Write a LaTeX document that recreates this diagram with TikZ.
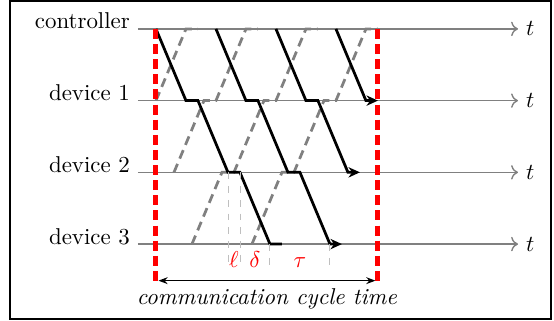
\documentclass[tikz,border=0pt]{standalone}
\usetikzlibrary{arrows.meta}
\tikzset{
  timeline/.style={gray, semithick, -{To[length=3pt]}},
  downmsg/.style={black, very thick},
  upmsg/.style={gray, very thick, dash pattern=on 4pt off 2.5pt},
  cyclemark/.style={red, line width=2.2pt, dash pattern=on 4.4pt off 2.2pt},
  helpline/.style={gray!50, thin, dashed},
  paramlabel/.style={red, anchor=base},
}

\begin{document}
\begin{tikzpicture}[x=0.46cm, y=1.1cm, >={Stealth[length=5pt, width=4.5pt]}]
    \useasboundingbox (-5.2,0.403) rectangle (13.27,-4.07);
    % Frame
    \draw[line width=0.9pt] (-4.88,0.39) rectangle (13.17,-4.05);

    % Timelines
    \foreach \lab/\y/\nm in {controller/0/ctrl, device 1/-1/devA, device 2/-2/devB, device 3/-3/devC} {
        \coordinate (\nm-start) at (-0.6,\y);
        \coordinate (\nm-end) at (12.07,\y);
        \draw[timeline] (\nm-start) -- (\nm-end);
        \node[right] (\nm-t) at (\nm-end) {$t$};
        \node[anchor=base east] (\nm-label) at (\nm-start) {\lab};
    }

    % Replies (upwards, dashed)
    \draw[upmsg] (0,-1) -- (1,0) -- (1.4,0);
    \draw[upmsg] (0.6,-2) -- (1.6,-1) -- (2,-1) -- (3,0) -- (3.4,0);
    \draw[upmsg] (1.2,-3) -- (2.2,-2) -- (2.6,-2) -- (3.6,-1) -- (4,-1)
        -- (5,0) -- (5.4,0);
    \draw[upmsg] (3.2,-3) -- (4.2,-2) -- (4.6,-2) -- (5.6,-1) -- (6,-1)
        -- (7,0) -- (7.4,0);

    % Commands (downwards)
    \draw[downmsg] (0,0) -- (1,-1) -- (1.4,-1) -- (2.4,-2) -- (2.8,-2)
        -- (3.8,-3) -- (4.2,-3);
    \draw[downmsg, ->] (2,0) -- (3,-1) -- (3.4,-1) -- (4.4,-2) -- (4.8,-2)
        -- (5.8,-3) -- (6.2,-3);
    \draw[downmsg, ->] (4,0) -- (5,-1) -- (5.4,-1) -- (6.4,-2) -- (6.8,-2);
    \draw[downmsg, ->] (6,0) -- (7,-1) -- (7.4,-1);

    % Parameter markers
    \draw[helpline] (2.4,-2) -- (2.4,-3.33);
    \draw[helpline] (2.8,-2) -- (2.8,-3.33);
    \draw[helpline] (3.8,-3) -- (3.8,-3.33);
    \draw[helpline] (5.8,-3) -- (5.8,-3.33);
    \node[paramlabel] (ell) at (2.6,-3.32) {$\ell$};
    \node[paramlabel] (delta) at (3.3,-3.32) {$\delta$};
    \node[paramlabel] (tau) at (4.8,-3.32) {$\tau$};

    % Cycle boundaries
    \coordinate (cycle-start) at (0,0);
    \coordinate (cycle-end) at (7.4,0);
    \draw[cyclemark] (cycle-start) -- ++(0,-3.58);
    \draw[cyclemark] (cycle-end) -- ++(0,-3.58);
    \draw[semithick, {Stealth[length=4pt]}-{Stealth[length=4pt]},
        shorten <=1.1pt, shorten >=1.1pt]
        (0,-3.51) -- node[below] (cycle-label) {\textit{communication cycle time}} (7.4,-3.51);
\end{tikzpicture}
\end{document}
